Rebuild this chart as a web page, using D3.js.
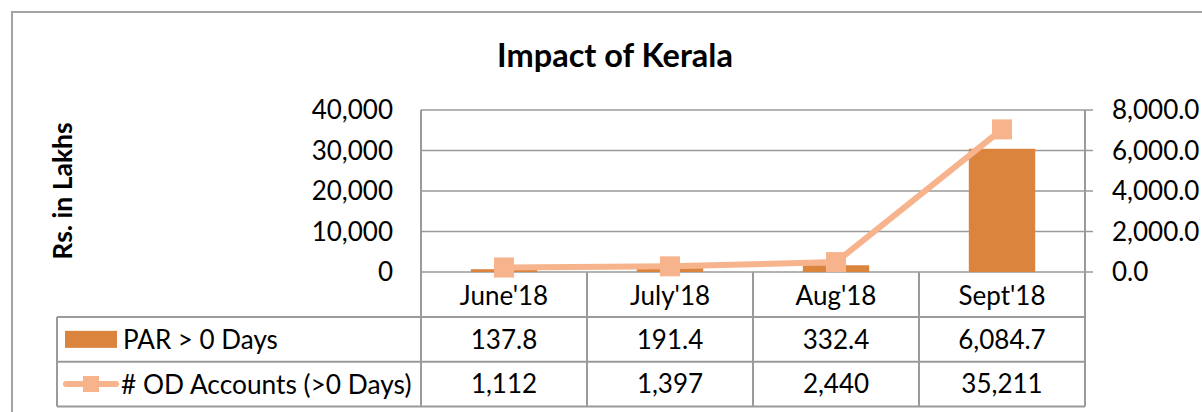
<!DOCTYPE html>
<html>
<head>
<meta charset="utf-8">
<script src="https://cdn.jsdelivr.net/npm/d3@7"></script>
<style>
  html, body { margin: 0; padding: 0; background: #fff; }
  svg { display: block; font-family: Lato, "Open Sans", sans-serif; }
</style>
</head>
<body>
<svg id="chart" width="1202" height="412"></svg>
<script>
// ---- data ----
const categories = ["June'18", "July'18", "Aug'18", "Sept'18"];
const parValues = [137.8, 191.4, 332.4, 6084.7];          // PAR > 0 Days (right axis)
const odValues = [1112, 1397, 2440, 35211];               // # OD Accounts (>0 Days) (left axis)
const leftTicks = [0, 10000, 20000, 30000, 40000];
const rightTicks = [0, 2000, 4000, 6000, 8000];
const seriesNames = ["PAR > 0 Days", "# OD Accounts (>0 Days)"];
const chartTitle = "Impact of Kerala";
const yTitle = "Rs. in Lakhs";

// ---- layout ----
const plotL = 421, plotR = 1085, plotT = 110, plotB = 272;
const tableL = 57, rowH = 44.7;
const gridColor = "#9a9a9a";
const barColor = "#DA843E";
const lineColor = "#F7B38C";

const svg = d3.select("#chart");

// outer chart frame
svg.append("path")
  .attr("d", "M12,412 L12,12 L1202,12")
  .attr("fill", "none").attr("stroke", "#a3a3a3").attr("stroke-width", 2);

const x = d3.scaleBand().domain(categories).range([plotL, plotR]).paddingInner(0.6).paddingOuter(0.3);
const yL = d3.scaleLinear().domain([0, 40000]).range([plotB, plotT]);
const yR = d3.scaleLinear().domain([0, 8000]).range([plotB, plotT]);

// gridlines (with right-side outer ticks)
svg.append("g").selectAll("line").data(leftTicks).join("line")
  .attr("x1", plotL).attr("x2", plotR + 8)
  .attr("y1", d => yL(d)).attr("y2", d => yL(d))
  .attr("stroke", gridColor).attr("stroke-width", 1.6);

// left axis labels
const fmtL = d3.format(",");
svg.append("g").selectAll("text").data(leftTicks).join("text")
  .attr("x", 393).attr("y", d => yL(d))
  .attr("dy", "0.36em").attr("text-anchor", "end")
  .attr("font-size", 26).attr("fill", "#000")
  .text(d => fmtL(d));

// right axis labels
const fmtR = d3.format(",.1f");
svg.append("g").selectAll("text").data(rightTicks).join("text")
  .attr("x", 1112).attr("y", d => yR(d))
  .attr("dy", "0.36em").attr("text-anchor", "start")
  .attr("font-size", 26).attr("fill", "#000")
  .text(d => fmtR(d));

// title
svg.append("text").attr("x", 615).attr("y", 67)
  .attr("text-anchor", "middle").attr("font-weight", "bold")
  .attr("font-size", 32.5).text(chartTitle);

// y title
svg.append("text")
  .attr("transform", "translate(72,191) rotate(-90)")
  .attr("text-anchor", "middle").attr("font-weight", "bold")
  .attr("font-size", 26.5).text(yTitle);

// bars (right axis)
svg.append("g").selectAll("rect").data(parValues).join("rect")
  .attr("x", (d, i) => x(categories[i]))
  .attr("width", x.bandwidth())
  .attr("y", d => yR(d))
  .attr("height", d => yR(0) - yR(d))
  .attr("fill", barColor);

// line (left axis)
const cx = (i) => x(categories[i]) + x.bandwidth() / 2;
const line = d3.line().x((d, i) => cx(i)).y(d => yL(d));
svg.append("path").datum(odValues)
  .attr("d", line).attr("fill", "none")
  .attr("stroke", lineColor).attr("stroke-width", 6).attr("stroke-linejoin", "round");
const ms = 20;
svg.append("g").selectAll("rect").data(odValues).join("rect")
  .attr("x", (d, i) => cx(i) - ms / 2).attr("y", d => yL(d) - ms / 2)
  .attr("width", ms).attr("height", ms)
  .attr("fill", lineColor);

// ---- data table ----
const rowTops = [plotB, plotB + 45, plotB + 45 + rowH];
const tableB = plotB + 45 + 2 * rowH;
const tg = svg.append("g");
// horizontal lines
[rowTops[1], rowTops[2], tableB].forEach(yv => {
  tg.append("line").attr("x1", tableL).attr("x2", plotR)
    .attr("y1", yv).attr("y2", yv).attr("stroke", gridColor).attr("stroke-width", 2);
});
// vertical lines
tg.append("line").attr("x1", tableL).attr("x2", tableL).attr("y1", rowTops[1]).attr("y2", tableB)
  .attr("stroke", gridColor).attr("stroke-width", 2);
tg.append("line").attr("x1", plotL).attr("x2", plotL).attr("y1", plotT).attr("y2", tableB)
  .attr("stroke", gridColor).attr("stroke-width", 2);
tg.append("line").attr("x1", plotR).attr("x2", plotR).attr("y1", plotT).attr("y2", tableB)
  .attr("stroke", gridColor).attr("stroke-width", 2);
categories.slice(1).forEach(c => {
  const xv = x(c) - x.step() * x.paddingInner() / 2;
  tg.append("line").attr("x1", xv).attr("x2", xv).attr("y1", plotB).attr("y2", tableB)
    .attr("stroke", gridColor).attr("stroke-width", 2);
});
// header labels
tg.selectAll("text.cat").data(categories).join("text").attr("class", "cat")
  .attr("x", (d) => x(d) + x.bandwidth() / 2).attr("y", plotB + 45 / 2 + 1)
  .attr("dy", "0.36em").attr("text-anchor", "middle").attr("font-size", 26)
  .text(d => d);
// PAR row
tg.selectAll("text.par").data(parValues).join("text").attr("class", "par")
  .attr("x", (d, i) => cx(i)).attr("y", rowTops[1] + rowH / 2)
  .attr("dy", "0.36em").attr("text-anchor", "middle").attr("font-size", 26)
  .text(d => d3.format(",.1f")(d));
// OD row
tg.selectAll("text.od").data(odValues).join("text").attr("class", "od")
  .attr("x", (d, i) => cx(i)).attr("y", rowTops[2] + rowH / 2)
  .attr("dy", "0.36em").attr("text-anchor", "middle").attr("font-size", 26)
  .text(d => d3.format(",")(d));
// legend keys
tg.append("rect").attr("x", 65).attr("y", rowTops[1] + rowH / 2 - 8.5)
  .attr("width", 52).attr("height", 17).attr("fill", barColor);
tg.append("text").attr("x", 123).attr("y", rowTops[1] + rowH / 2)
  .attr("dy", "0.36em").attr("font-size", 26).text(seriesNames[0]);
tg.append("line").attr("x1", 66).attr("x2", 116)
  .attr("y1", rowTops[2] + rowH / 2).attr("y2", rowTops[2] + rowH / 2)
  .attr("stroke", lineColor).attr("stroke-width", 6).attr("stroke-linecap", "round");
tg.append("rect").attr("x", 83).attr("y", rowTops[2] + rowH / 2 - 8)
  .attr("width", 16).attr("height", 16).attr("fill", lineColor);
tg.append("text").attr("x", 121).attr("y", rowTops[2] + rowH / 2)
  .attr("dy", "0.36em").attr("font-size", 26.3).text(seriesNames[1]);
</script>
</body>
</html>
